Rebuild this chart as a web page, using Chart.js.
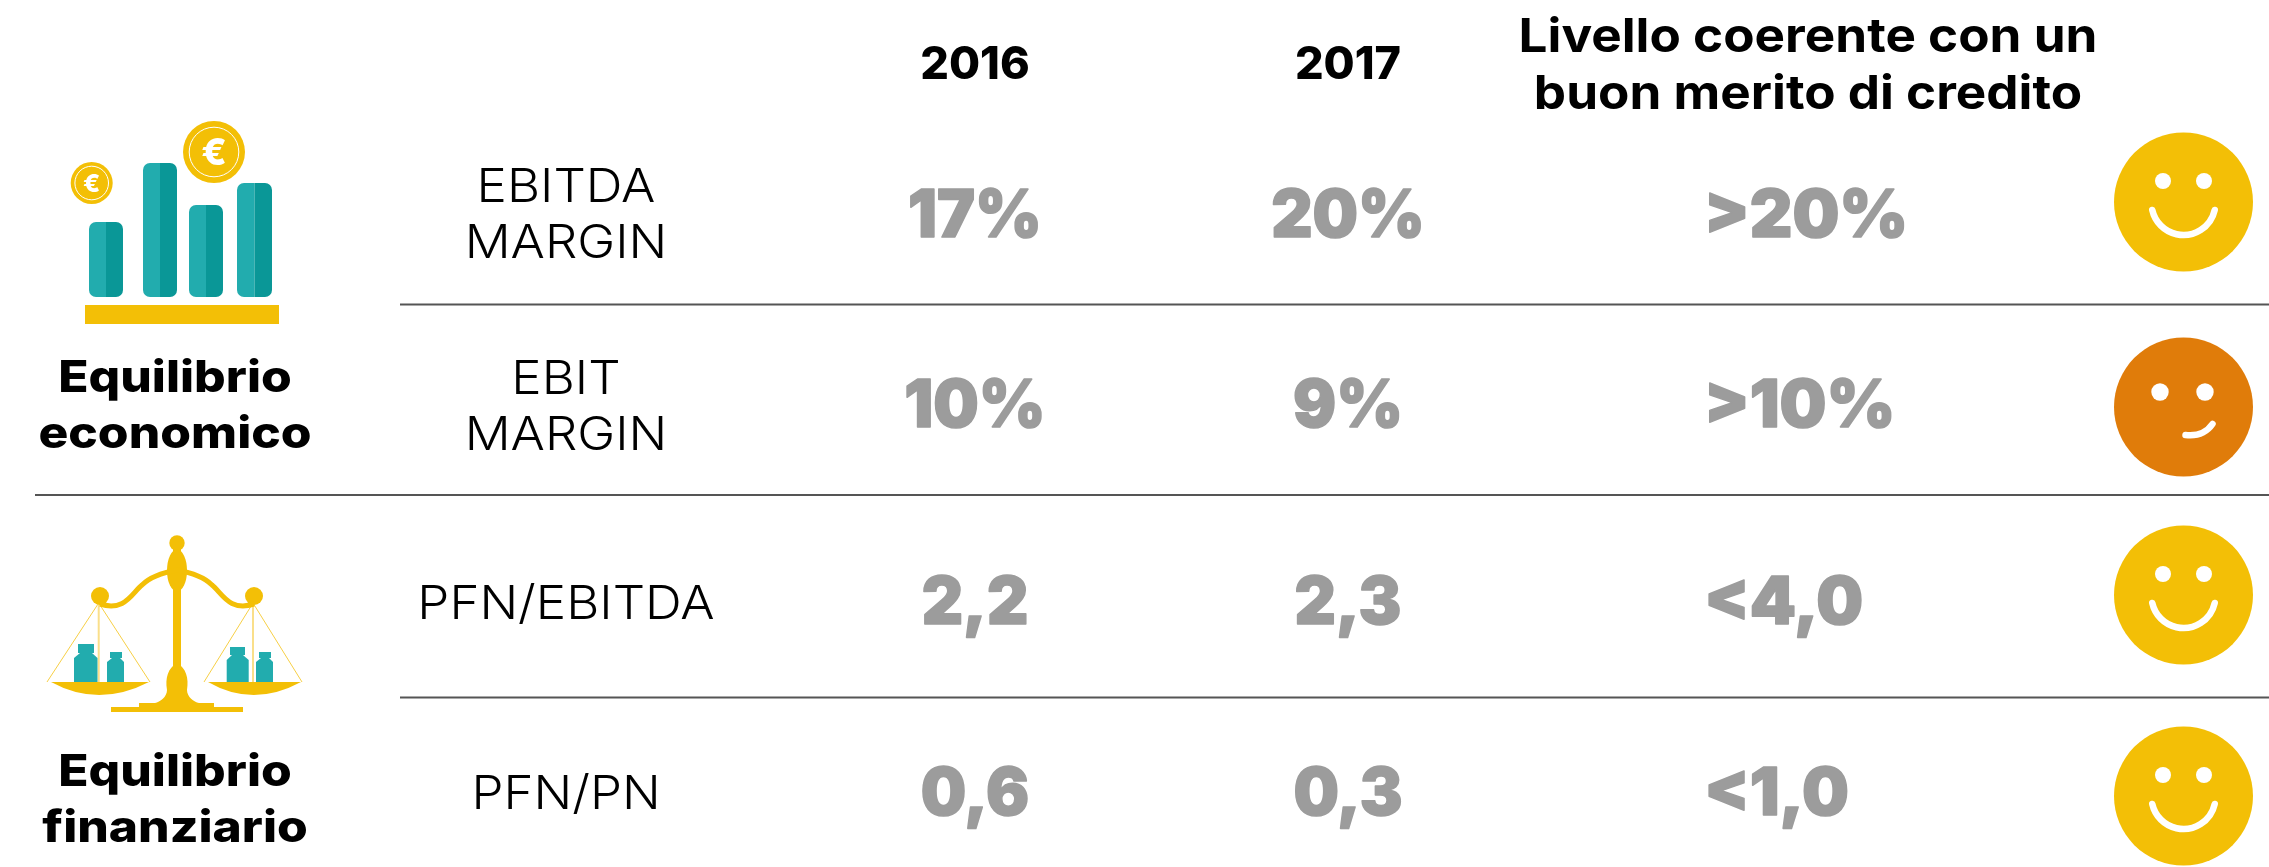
<!DOCTYPE html>
<html>
<head>
<meta charset="utf-8">
<title>Equilibrio economico e finanziario</title>
<script src="https://cdn.jsdelivr.net/npm/chart.js@4"></script>
<style>
  html, body { margin: 0; padding: 0; background: #fff; overflow: hidden; }
  canvas { display: block; }
</style>
</head>
<body>
<canvas id="chart" width="2269" height="867"></canvas>
<script>
// data
const years = ['2016', '2017'];
const thresholdTitle = ['Livello coerente con un', 'buon merito di credito'];
const metrics = [['EBITDA', 'MARGIN'], ['EBIT', 'MARGIN'], ['PFN/EBITDA'], ['PFN/PN']];
const values2016 = ['17%', '10%', '2,2', '0,6'];
const values2017 = ['20%', '9%', '2,3', '0,3'];
const thresholds = ['>20%', '>10%', '<4,0', '<1,0'];
const moods = ['good', 'warn', 'good', 'good'];
const groups = [['Equilibrio', 'economico'], ['Equilibrio', 'finanziario']];

// layout, in canvas units (the two scales run 0..2269 and 0..867)
const colMetric = 566, col2016 = 975, col2017 = 1348, colLimit = 1704, colMood = 2183.5;
const rowText = [236.5, 427, 623.5, 815];
const rowMetric = [[202, 258], [394, 450], [619], [809]];
const rowMood = [202, 407, 595, 796];
const rowGroup = [[392, 448], [786, 842]];
const rules = [[400, 304.5], [35, 495], [400, 697.5]];

const YELLOW = '#f3bf06', ORANGE = '#e07c0a', TEAL = '#22acae', TEAL_DK = '#0a9797', GREY = '#9c9c9c';
const FONT = 'Inter, "Noto Sans", sans-serif';

// Inter is narrower than the reference face, so text gets a small horizontal stretch
function text(ctx, str, x, y, font, color, stretch, align, heavy) {
  ctx.save();
  ctx.font = font + ' ' + FONT;
  ctx.fillStyle = color;
  ctx.textAlign = align || 'center';
  ctx.textBaseline = 'alphabetic';
  ctx.translate(x, y);
  ctx.scale(stretch || 1, 1);
  ctx.fillText(str, 0, 0);
  if (heavy) {
    ctx.strokeStyle = color;
    ctx.lineWidth = heavy;
    ctx.lineJoin = 'round';
    ctx.strokeText(str, 0, 0);
  }
  ctx.restore();
}

function roundBar(ctx, x, y0, y1, w) {
  ctx.save();
  ctx.beginPath();
  ctx.roundRect(x, y0, w, y1 - y0, 7);
  ctx.clip();
  ctx.fillStyle = TEAL;
  ctx.fillRect(x, y0, w / 2, y1 - y0);
  ctx.fillStyle = TEAL_DK;
  ctx.fillRect(x + w / 2, y0, w / 2, y1 - y0);
  ctx.restore();
}

function coin(ctx, x, y, r) {
  ctx.fillStyle = YELLOW;
  ctx.beginPath();
  ctx.arc(x, y, r, 0, Math.PI * 2);
  ctx.fill();
  ctx.strokeStyle = '#fff';
  ctx.lineWidth = 1;
  ctx.beginPath();
  ctx.arc(x, y, r * 0.8, 0, Math.PI * 2);
  ctx.stroke();
  text(ctx, '€', x, y + r * 0.42, '800 ' + Math.round(r * 1.2) + 'px', '#fff');
}

function barsIcon(ctx) {
  roundBar(ctx, 89, 222, 297, 34);
  roundBar(ctx, 143, 163, 297, 34);
  roundBar(ctx, 189, 205, 297, 34);
  roundBar(ctx, 237, 183, 297, 35);
  ctx.fillStyle = YELLOW;
  ctx.fillRect(85, 305, 194, 19);
  coin(ctx, 91.7, 183, 21);
  coin(ctx, 214, 152, 31);
}

function weight(ctx, x0, x1, nx0, nx1, top, neck, shoulder) {
  ctx.fillStyle = TEAL;
  ctx.fillRect(nx0, top, nx1 - nx0, neck - top);
  ctx.beginPath();
  ctx.moveTo(nx0 + 2, neck);
  ctx.lineTo(nx1 - 2, neck);
  ctx.lineTo(x1, shoulder);
  ctx.lineTo(x1, 682);
  ctx.lineTo(x0, 682);
  ctx.lineTo(x0, shoulder);
  ctx.closePath();
  ctx.fill();
}

function pan(ctx, hang, x0, x1) {
  ctx.strokeStyle = '#f7cf45';
  ctx.lineWidth = 1;
  ctx.beginPath();
  ctx.moveTo(hang, 603);
  ctx.lineTo(x0, 682);
  ctx.moveTo(hang, 603);
  ctx.lineTo(x1, 682);
  ctx.stroke();
  ctx.strokeStyle = '#fadf8a';
  ctx.lineWidth = 2;
  ctx.beginPath();
  ctx.moveTo(hang, 603);
  ctx.lineTo(hang, 682);
  ctx.stroke();
  ctx.fillStyle = YELLOW;
  ctx.beginPath();
  ctx.moveTo(x0 + 4, 682);
  ctx.lineTo(x1 - 1, 682);
  ctx.quadraticCurveTo((x0 + x1) / 2, 708, x0 + 4, 682);
  ctx.fill();
}

function scaleIcon(ctx) {
  pan(ctx, 98.7, 47, 150);
  pan(ctx, 253, 204, 302);
  weight(ctx, 74, 97.5, 78, 94, 644, 653, 658);
  weight(ctx, 107, 124, 110, 122, 652, 658, 662);
  weight(ctx, 226.7, 248.7, 230, 245, 647, 655, 660);
  weight(ctx, 256, 273, 259, 271, 652, 658, 662);

  ctx.fillStyle = YELLOW;
  ctx.strokeStyle = YELLOW;
  // pillar and knobs
  ctx.fillRect(173, 548, 8, 160);
  [[177, 543, 7.7], [100, 596, 9], [254, 596, 9]].forEach(k => {
    ctx.beginPath();
    ctx.arc(k[0], k[1], k[2], 0, Math.PI * 2);
    ctx.fill();
  });
  ctx.beginPath();
  ctx.ellipse(177, 570.5, 10, 21, 0, 0, Math.PI * 2);
  ctx.fill();
  // beam
  ctx.lineWidth = 5;
  ctx.beginPath();
  ctx.moveTo(100, 604);
  ctx.bezierCurveTo(125, 612, 132, 593, 142, 585);
  ctx.bezierCurveTo(150, 577, 160, 573, 177, 570);
  ctx.bezierCurveTo(194, 573, 204, 577, 212, 585);
  ctx.bezierCurveTo(222, 593, 229, 612, 254, 604);
  ctx.stroke();
  // foot
  ctx.beginPath();
  ctx.moveTo(177, 663);
  ctx.bezierCurveTo(168, 668, 165, 678, 167, 690);
  ctx.bezierCurveTo(167, 697, 160, 702, 155, 703);
  ctx.lineTo(199, 703);
  ctx.bezierCurveTo(194, 702, 187, 697, 187, 690);
  ctx.bezierCurveTo(189, 678, 186, 668, 177, 663);
  ctx.fill();
  ctx.fillRect(139, 703, 75, 5);
  ctx.fillRect(111, 707, 132, 5);
}

function face(ctx, x, y, mood) {
  ctx.fillStyle = '#fff';
  ctx.strokeStyle = '#fff';
  ctx.lineCap = 'round';
  const eyeDx = mood === 'good' ? 20.5 : 22.5;
  const eyeY = mood === 'good' ? y - 21 : y - 15;
  const eyeR = mood === 'good' ? 8 : 8.7;
  [-eyeDx, eyeDx].forEach(dx => {
    ctx.beginPath();
    ctx.arc(x + dx + (mood === 'good' ? 0 : -1), eyeY, eyeR, 0, Math.PI * 2);
    ctx.fill();
  });
  ctx.lineWidth = 6.5;
  ctx.beginPath();
  if (mood === 'good') {
    ctx.arc(x, y + 1, 32, 0.22, Math.PI - 0.22);
  } else {
    ctx.moveTo(x + 2, y + 28);
    ctx.quadraticCurveTo(x + 20, y + 30, x + 29, y + 17);
  }
  ctx.stroke();
  ctx.lineCap = 'butt';
}

const tablePlugin = {
  id: 'table',
  afterDatasetsDraw(chart) {
    const ctx = chart.ctx;
    ctx.save();

    // headers
    years.forEach((y, i) => {
      text(ctx, y, i ? col2017 : col2016, 79, '800 45px', '#000');
    });
    thresholdTitle.forEach((t, i) => {
      text(ctx, t, 1808, 52 + i * 57, '700 47px', '#000', 1.09);
    });

    // metric labels
    metrics.forEach((lines, r) => {
      lines.forEach((l, i) => {
        text(ctx, l, colMetric, rowMetric[r][i], '300 47px', '#000', 1.085);
      });
    });

    // value columns come from the datasets
    chart.data.datasets.forEach((ds, di) => {
      if (!ds.cellText) return;
      chart.getDatasetMeta(di).data.forEach((pt, i) => {
        text(ctx, ds.cellText[i], pt.x, pt.y, '900 66px', GREY, ds.cellStretch, ds.cellAlign, 1.5);
      });
    });

    // smileys, the discs are the points of the last dataset
    chart.getDatasetMeta(chart.data.datasets.length - 1).data.forEach((pt, i) => {
      face(ctx, pt.x, pt.y, moods[i]);
    });

    // group titles
    groups.forEach((g, i) => {
      g.forEach((l, j) => {
        text(ctx, l, 175, rowGroup[i][j], '800 44px', '#000', 1.13);
      });
    });

    barsIcon(ctx);
    scaleIcon(ctx);
    ctx.restore();
  }
};

function column(x, labels, align, stretch) {
  return {
    data: labels.map((_, i) => ({ x: x, y: rowText[i] })),
    cellText: labels,
    cellAlign: align,
    cellStretch: stretch,
    pointRadius: 0,
    showLine: false
  };
}

const ruleSets = rules.map(r => ({
  data: [{ x: r[0], y: r[1] }, { x: 2269, y: r[1] }],
  showLine: true,
  borderColor: '#555555',
  borderWidth: 2,
  pointRadius: 0
}));

new Chart(document.getElementById('chart'), {
  type: 'scatter',
  data: {
    datasets: [
      ...ruleSets,
      column(col2016, values2016, 'center', 0.97),
      column(col2017, values2017, 'center', 0.97),
      column(colLimit, thresholds, 'left', 1.0),
      {
        data: moods.map((_, i) => ({ x: colMood, y: rowMood[i] })),
        pointRadius: 69.5,
        pointHoverRadius: 69.5,
        pointBorderWidth: 0,
        pointBackgroundColor: moods.map(m => (m === 'good' ? YELLOW : ORANGE)),
        showLine: false
      }
    ]
  },
  options: {
    responsive: false,
    animation: false,
    events: [],
    layout: { padding: 0, autoPadding: false },
    plugins: { legend: { display: false }, tooltip: { enabled: false } },
    scales: {
      x: { type: 'linear', min: 0, max: 2269, display: false },
      y: { type: 'linear', min: 0, max: 867, reverse: true, display: false }
    }
  },
  plugins: [tablePlugin]
});
</script>
</body>
</html>
